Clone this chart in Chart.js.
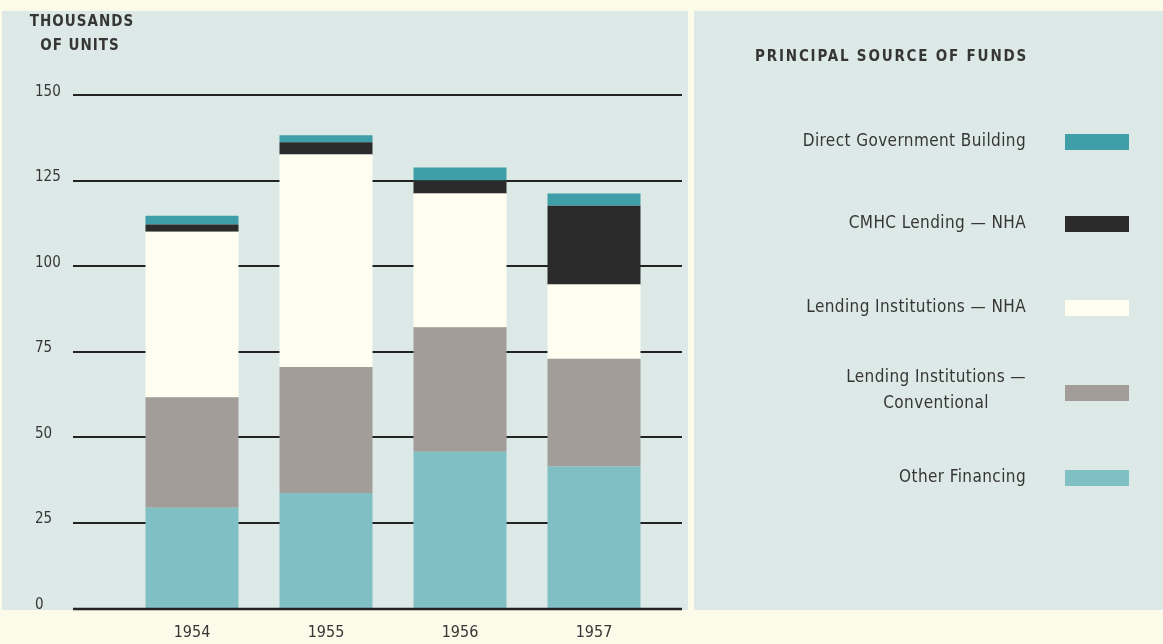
<!DOCTYPE html>
<html>
<head>
<meta charset="utf-8">
<script src="https://cdn.jsdelivr.net/npm/chart.js@4/dist/chart.umd.min.js"></script>
<style>
  html, body { margin: 0; padding: 0; background: #fcfae8; overflow: hidden; }
  #wrap { width: 1163px; height: 644px; }
</style>
</head>
<body>
<div id="wrap"><canvas id="c" width="1163" height="644"></canvas></div>
<script>
// ---- data ----
const years = ['1954', '1955', '1956', '1957'];
const otherFinancing        = [29.3, 33.6, 45.7, 41.4];
const lendingConventional   = [32.3, 36.9, 36.4, 31.5];
const lendingNHA            = [48.4, 62.1, 39.1, 21.7];
const cmhcLending           = [2.1, 3.6, 3.8, 23.0];
const directGovernment      = [2.6, 2.0, 3.8, 3.6];
const seriesNames = [
  'Other Financing',
  'Lending Institutions —\nConventional',
  'Lending Institutions — NHA',
  'CMHC Lending — NHA',
  'Direct Government Building'
];
const yTickStep = 25;
const yMax = 150;
const axisTitleLines = ['THOUSANDS', 'OF UNITS'];
const legendTitle = 'PRINCIPAL SOURCE OF FUNDS';

// ---- styles ----
const FONT = "'DejaVu Sans Condensed', 'Liberation Sans Narrow', 'Roboto Condensed', 'Open Sans', sans-serif";
const TEXT = '#363636';
const CREAM = '#fcfae8';
const PANEL = '#dce9e6';
const colors = ['#80c0c4', '#a39d99', '#fffef1', '#2b2b2b', '#3f9ea7'];
const seriesData = [otherFinancing, lendingConventional, lendingNHA, cmhcLending, directGovernment];

const datasets = seriesData.map((d, i) => ({
  label: seriesNames[i],
  data: d,
  backgroundColor: colors[i],
  borderWidth: 0,
  barPercentage: 0.694,
  categoryPercentage: 1.0,
  stack: 's'
}));

const decorPlugin = {
  id: 'decor',
  beforeDraw(chart) {
    const ctx = chart.ctx;
    ctx.save();
    ctx.fillStyle = CREAM;
    ctx.fillRect(0, 0, chart.width, chart.height);
    ctx.fillStyle = PANEL;
    ctx.fillRect(2, 11, 686, 599);
    ctx.fillRect(694, 11, 469, 599);
    ctx.restore();
  },
  beforeDatasetsDraw(chart) {
    const ctx = chart.ctx, y = chart.scales.y;
    ctx.save();
    ctx.strokeStyle = '#232323';
    ctx.lineWidth = 2;
    y.ticks.forEach(t => {
      if (t.value === 0) return;
      const py = Math.round(y.getPixelForValue(t.value));
      ctx.beginPath();
      ctx.moveTo(73, py);
      ctx.lineTo(682, py);
      ctx.stroke();
    });
    ctx.restore();
  },
  afterDatasetsDraw(chart) {
    const ctx = chart.ctx, y = chart.scales.y;
    ctx.save();
    ctx.strokeStyle = '#232323';
    ctx.lineWidth = 2.5;
    const py = Math.round(y.getPixelForValue(0)) + 1;
    ctx.beginPath();
    ctx.moveTo(73, py);
    ctx.lineTo(682, py);
    ctx.stroke();
    ctx.restore();
  },
  afterDraw(chart) {
    const ctx = chart.ctx;
    const hasLS = ('letterSpacing' in ctx);
    ctx.save();
    ctx.fillStyle = TEXT;
    ctx.textBaseline = 'middle';
    // axis title
    ctx.font = 'bold 15px ' + FONT;
    ctx.textAlign = 'center';
    if (hasLS) ctx.letterSpacing = '1px';
    ctx.fillText(axisTitleLines[0], 82, 22);
    ctx.fillText(axisTitleLines[1], 80, 46);
    // legend title
    ctx.textAlign = 'right';
    ctx.font = 'bold 15px ' + FONT;
    if (hasLS) ctx.letterSpacing = '1.8px';
    ctx.fillText(legendTitle, 1028, 57);
    if (hasLS) ctx.letterSpacing = '0.4px';
    // legend items (top = last dataset)
    const rowsY = [142, 224, 308, 393, 478];
    ctx.font = '17px ' + FONT;
    const ds = chart.data.datasets;
    for (let k = 0; k < ds.length; k++) {
      const d = ds[ds.length - 1 - k];
      const cy = rowsY[k];
      ctx.fillStyle = d.backgroundColor;
      ctx.fillRect(1065, cy - 8, 64, 16);
      ctx.fillStyle = TEXT;
      const lines = d.label.split('\n');
      const widths = lines.map(l => ctx.measureText(l).width);
      const maxW = Math.max(...widths);
      const lh = 26;
      const startY = cy - (lines.length - 1) * lh / 2 - (lines.length > 1 ? 2 : 0);
      ctx.textAlign = 'center';
      lines.forEach((l, j) => {
        ctx.fillText(l, 1026 - maxW / 2, startY + j * lh);
      });
    }
    ctx.restore();
  }
};

new Chart(document.getElementById('c'), {
  type: 'bar',
  data: { labels: years, datasets },
  options: {
    responsive: false,
    animation: false,
    devicePixelRatio: 1,
    layout: { padding: { left: 35, right: 502, top: 95, bottom: 0 } },
    plugins: { legend: { display: false }, tooltip: { enabled: false }, title: { display: false } },
    scales: {
      x: {
        stacked: true,
        grid: { display: false, drawTicks: false },
        border: { display: false },
        ticks: { color: TEXT, font: { family: FONT, size: 16 }, padding: 15 },
        afterFit(scale) { scale.height = 36; }
      },
      y: {
        stacked: true,
        min: 0,
        max: yMax,
        grid: { display: false, drawTicks: false },
        border: { display: false },
        ticks: {
          stepSize: yTickStep,
          color: TEXT,
          font: { family: FONT, size: 15 },
          crossAlign: 'far',
          padding: 0,
          labelOffset: -3
        },
        afterFit(scale) { scale.width = 90; }
      }
    }
  },
  plugins: [decorPlugin]
});
</script>
</body>
</html>
